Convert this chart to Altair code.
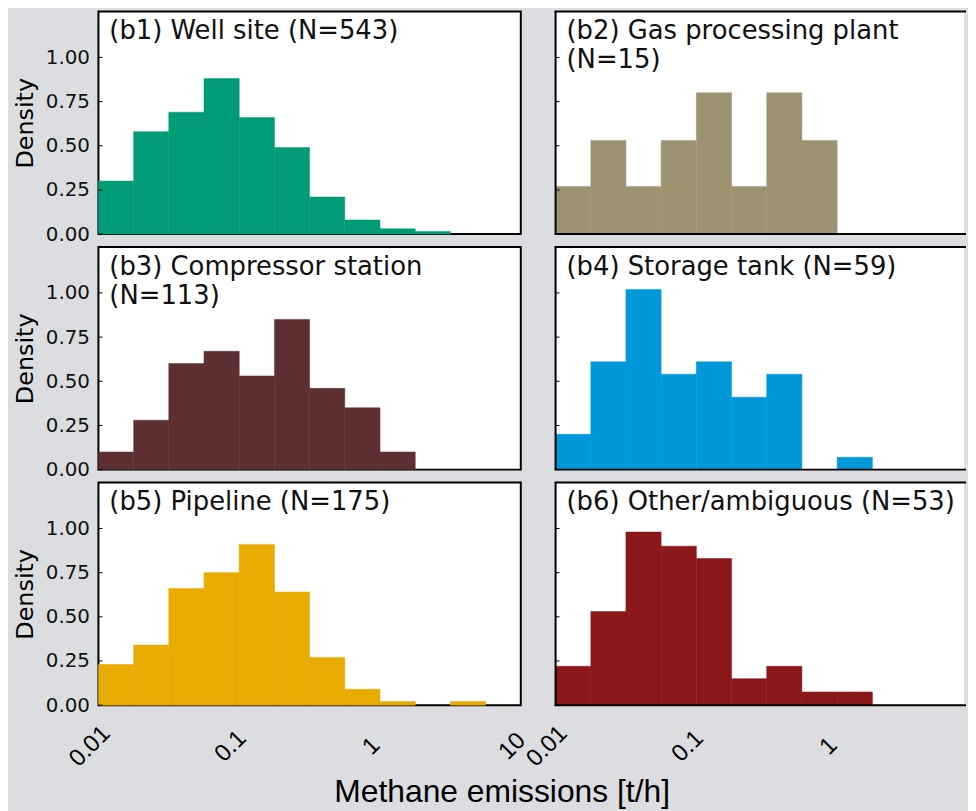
import altair as alt
import pandas as pd

# bin edges (log10 spacing of 0.25 from 0.01 to 10 t/h)
edges = [0.01, 0.0178, 0.0316, 0.0562, 0.1, 0.178, 0.316, 0.562, 1.0, 1.78, 3.16, 5.62, 10.0]

titles = [
    "(b1) Well site (N=543)",
    "(b2) Gas processing plant\n(N=15)",
    "(b3) Compressor station\n(N=113)",
    "(b4) Storage tank (N=59)",
    "(b5) Pipeline (N=175)",
    "(b6) Other/ambiguous (N=53)",
]
colors = ["#009b77", "#9e9371", "#5e2f31", "#0098d9", "#e8ab00", "#8b1818"]

b1 = [0.30, 0.58, 0.69, 0.88, 0.66, 0.49, 0.21, 0.08, 0.03, 0.015, 0.0, 0.0]
b2 = [0.27, 0.53, 0.27, 0.53, 0.80, 0.27, 0.80, 0.53, 0.0, 0.0, 0.0, 0.0]
b3 = [0.10, 0.28, 0.60, 0.67, 0.53, 0.85, 0.46, 0.35, 0.10, 0.0, 0.0, 0.0]
b4 = [0.20, 0.61, 1.02, 0.54, 0.61, 0.41, 0.54, 0.0, 0.07, 0.0, 0.0, 0.0]
b5 = [0.23, 0.34, 0.66, 0.75, 0.91, 0.64, 0.27, 0.09, 0.02, 0.0, 0.02, 0.0]
b6 = [0.22, 0.53, 0.98, 0.90, 0.83, 0.15, 0.22, 0.075, 0.075, 0.0, 0.0, 0.0]
densities = [b1, b2, b3, b4, b5, b6]

y_ticks = [0.0, 0.25, 0.5, 0.75, 1.0]
x_ticks = [0.01, 0.1, 1, 10]

WL, WR, H = 425, 411, 224
YMAX = 1.26
XMAX_R = 10 ** (-2 + 3 * WR / WL)  # right column is cut off at the page edge


def panel(i, left, bottom):
    w = WL if left else WR
    xmax = 10 if left else XMAX_R
    df = pd.DataFrame({"lo": edges[:-1], "hi": edges[1:], "d": densities[i]})
    df = df[df["d"] > 0]
    xscale = alt.Scale(type="log", domain=[0.01, xmax], nice=False)
    yscale = alt.Scale(domain=[0, YMAX], nice=False, zero=True)
    if bottom:
        xaxis = alt.Axis(values=x_ticks, format="~g", labelAngle=315, labelAlign="center",
                         labelBaseline="middle", labelPadding=41, labelFlush=False,
                         labelOffset=-9,
                         ticks=False, domain=False, grid=False, title=None,
                         labelFont="Liberation Sans", labelFontSize=24, labelColor="black")
    else:
        xaxis = None
    if left:
        yaxis = alt.Axis(values=y_ticks, format=".2f", ticks=False, domain=False, grid=False,
                         title="Density", titleFont="DejaVu Sans", titleFontSize=24,
                         titleFontWeight="normal", titleColor="black", titlePadding=8,
                         labelFont="DejaVu Sans", labelFontSize=20, labelColor="#111",
                         labelPadding=9)
    else:
        yaxis = None
    bars = alt.Chart(df).mark_rect(color=colors[i], stroke=colors[i], strokeWidth=0.5).encode(
        x=alt.X("lo:Q", scale=xscale, axis=xaxis),
        x2="hi:Q",
        y=alt.Y("d:Q", scale=yscale, axis=yaxis),
        y2=alt.datum(0),
    )
    ticks = alt.Chart(pd.DataFrame({"t": y_ticks})).mark_rule(color="black", strokeWidth=1).encode(
        y=alt.Y("t:Q", scale=yscale, axis=yaxis),
        x=alt.value(0),
        x2=alt.value(4),
    )
    label = alt.Chart(pd.DataFrame({"txt": [titles[i]]})).mark_text(
        align="left", baseline="top", lineBreak="\n", font="DejaVu Sans",
        fontSize=26, lineHeight=29, color="#111",
    ).encode(text="txt:N", x=alt.value(11), y=alt.value(7))
    layers = [bars, ticks, label]
    props = dict(width=w, height=H)
    if not left:
        one = pd.DataFrame({"k": [0]})
        fr = alt.Chart(one).mark_rule(color="black", strokeWidth=2)
        layers += [
            fr.encode(x=alt.value(0), y=alt.value(0), y2=alt.value(H)),
            fr.encode(y=alt.value(0), x=alt.value(-1), x2=alt.value(w + 2)),
            fr.encode(y=alt.value(H), x=alt.value(-1), x2=alt.value(w + 2)),
        ]
        props["view"] = alt.ViewBackground(stroke="transparent", fill="white")
    return alt.layer(*layers).properties(**props)


panels = [
    panel(0, True, False), panel(1, False, False),
    panel(2, True, False), panel(3, False, False),
    panel(4, True, True), panel(5, False, True),
]

chart = alt.concat(
    *panels, columns=2, spacing={"row": 13, "column": 35}, bounds="flush",
    title=alt.TitleParams("Methane emissions [t/h]", orient="bottom", anchor="middle",
                          font="Liberation Sans", fontSize=32, fontWeight="normal",
                          color="black", offset=5, dx=12),
).properties(
    background="#dcdde0",
    padding={"left": 4, "top": -1, "right": 0, "bottom": 0},
).configure_view(
    stroke="black", strokeWidth=2, fill="white"
)

chart.save("out.html", embed_options={"renderer": "svg", "actions": False})
